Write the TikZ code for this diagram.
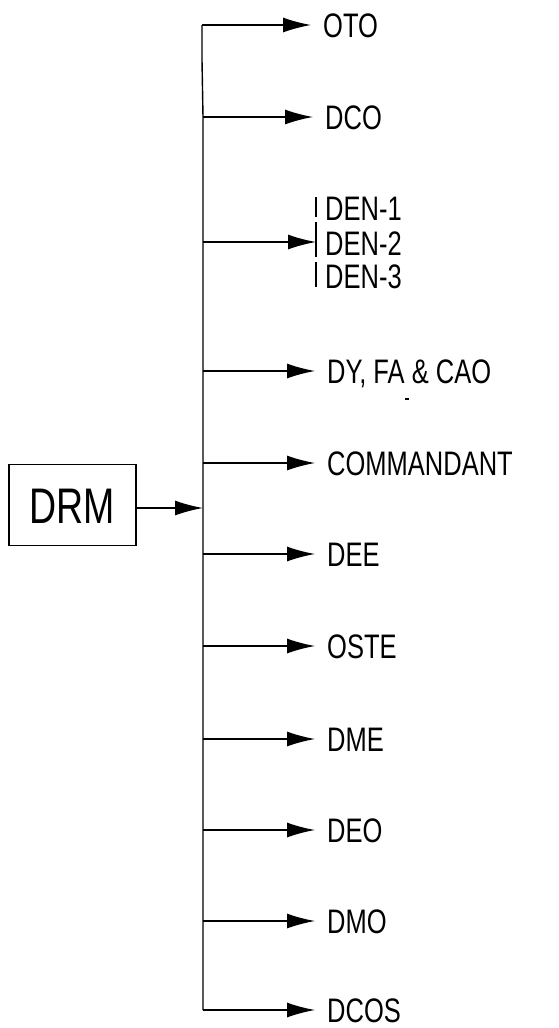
\documentclass[tikz,border=0pt]{standalone}
\usepackage{fontspec}
\setmainfont{Liberation Sans}[FakeStretch=0.75]
\usetikzlibrary{arrows.meta}
\begin{document}
\begin{tikzpicture}[x=1pt,y=-1pt,
  lbl/.style={anchor=west, inner sep=0pt, font=\fontsize{34}{34}\selectfont, text height=24pt, text depth=0pt},
  tip/.style={-{Latex[length=28pt,width=15pt]}},
  arr/.style={tip, line width=1.4pt, shorten >=12pt},
  line/.style={line width=1.4pt},
  boxstyle/.style={draw, line width=1.4pt, minimum width=127pt, minimum height=81pt, inner sep=0pt,
    font=\fontsize{50}{50}\selectfont, text height=36pt, text depth=0pt}]
\useasboundingbox (0,0) rectangle (559,1028);
% box
\node[boxstyle] (drm) at (72.5,505) {DRM};
% junctions on trunk
\coordinate (jt) at (202,25);
\coordinate (j2) at (203,117);
\coordinate (j3) at (203,242);
\coordinate (j4) at (203,371);
\coordinate (j5) at (203,463);
\coordinate (jd) at (203,508);
\coordinate (j6) at (203,554);
\coordinate (j7) at (203,646);
\coordinate (j8) at (203,739);
\coordinate (j9) at (203,830);
\coordinate (j10) at (203,921);
\coordinate (jb) at (203,1010);
% labels
\node[lbl] (oto) at (323,25) {OTO};
\node[lbl] (dco) at (325,117) {DCO};
\node[lbl] (den1) at (325,208) {DEN-1};
\node[lbl] (den2) at (325,243) {DEN-2};
\node[lbl] (den3) at (325,276) {DEN-3};
\node[lbl] (dy) at (327,371) {DY, FA \& CAO};
\node[lbl] (com) at (327,463) {COMMANDANT};
\node[lbl] (dee) at (327,554) {DEE};
\node[lbl] (oste) at (327,646) {OSTE};
\node[lbl] (dme) at (327,739) {DME};
\node[lbl] (deo) at (327,830) {DEO};
\node[lbl] (dmo) at (327,921) {DMO};
\node[lbl] (dcos) at (327,1010) {DCOS};
% bracket for DEN
\coordinate (b1) at (316,197);
\draw[line] (316,197) -- (316,217) (316,222) -- (316,257) (316,262) -- (316,287);
% trunk
\draw[line] (jt) -- (202,60) -- (j2) -- (jb);
% branches
\draw[arr] (jt) -- (oto.west);
\draw[arr] (j2) -- (dco.west);
\draw[tip, line width=1.4pt] (j3) -- (j3 -| b1);
\draw[arr] (j4) -- (dy.west);
\draw[arr] (j5) -- (com.west);
\draw[arr] (j6) -- (dee.west);
\draw[arr] (j7) -- (oste.west);
\draw[arr] (j8) -- (dme.west);
\draw[arr] (j9) -- (deo.west);
\draw[arr] (j10) -- (dmo.west);
\draw[arr] (jb) -- (dcos.west);
\draw[tip, line width=1.4pt] (drm.east |- jd) -- (jd);
% small mark below DY, FA & CAO
\draw[line] (405,399) -- (409,399);
\end{tikzpicture}
\end{document}
